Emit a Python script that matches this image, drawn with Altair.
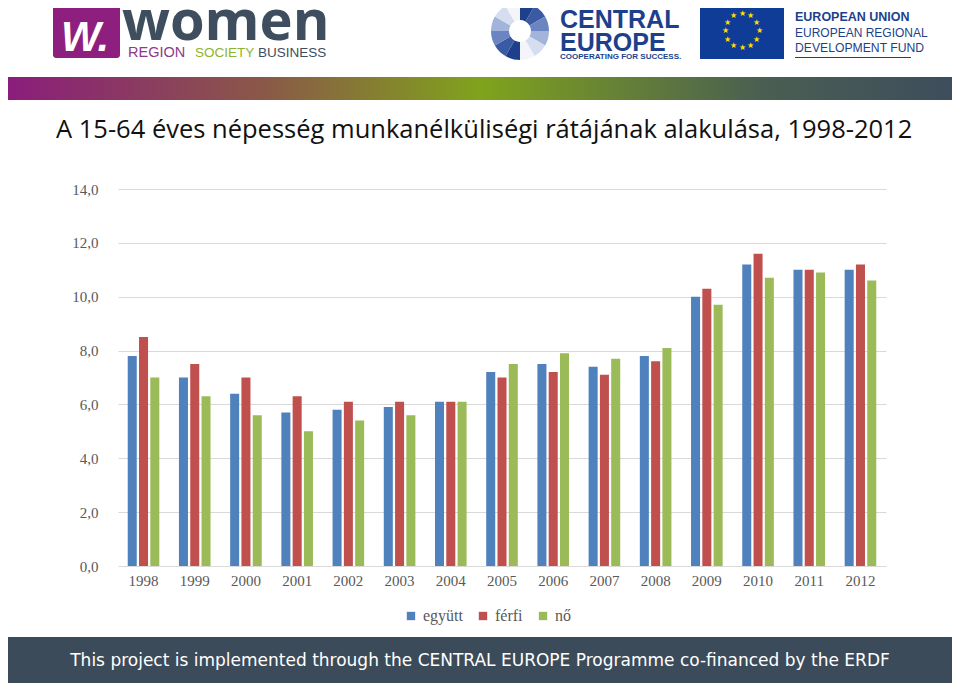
import math
import altair as alt
import pandas as pd

# ---- data ----
years = ["1998", "1999", "2000", "2001", "2002", "2003", "2004", "2005",
         "2006", "2007", "2008", "2009", "2010", "2011", "2012"]
egyutt = [7.8, 7.0, 6.4, 5.7, 5.8, 5.9, 6.1, 7.2, 7.5, 7.4, 7.8, 10.0, 11.2, 11.0, 11.0]
ferfi = [8.5, 7.5, 7.0, 6.3, 6.1, 6.1, 6.1, 7.0, 7.2, 7.1, 7.6, 10.3, 11.6, 11.0, 11.2]
no = [7.0, 6.3, 5.6, 5.0, 5.4, 5.6, 6.1, 7.5, 7.9, 7.7, 8.1, 9.7, 10.7, 10.9, 10.6]
series = ["együtt", "férfi", "nő"]
colors = ["#4F81BD", "#C0504D", "#9BBB59"]
y_ticks = [0, 2, 4, 6, 8, 10, 12, 14]

title_text = "A 15-64 éves népesség munkanélküliségi rátájának alakulása, 1998-2012"
footer_text = "This project is implemented through the CENTRAL EUROPE Programme co-financed by the ERDF"

rows = []
for s, vals in zip(series, [egyutt, ferfi, no]):
    for y, v in zip(years, vals):
        rows.append({"ev": y, "sorozat": s, "ertek": v})
df = pd.DataFrame(rows)

SERIF = "Liberation Serif, Times New Roman, serif"
SANS = "Liberation Sans, Arial, sans-serif"

bars = alt.Chart(df).mark_bar().encode(
    x=alt.X("ev:N", sort=years,
            scale=alt.Scale(paddingInner=0.383, paddingOuter=0.19),
            axis=alt.Axis(title=None, labelAngle=0, ticks=False, domain=False,
                          labelFont=SERIF, labelFontSize=15, labelColor="#595959",
                          labelPadding=7, grid=False)),
    xOffset=alt.XOffset("sorozat:N", sort=series,
                        scale=alt.Scale(paddingInner=0.2, paddingOuter=0)),
    y=alt.Y("ertek:Q", scale=alt.Scale(domain=[0, 14], nice=False),
            axis=alt.Axis(title=None, values=y_ticks, ticks=False, domain=False,
                          grid=True, gridColor="#D9D9D9", gridWidth=1,
                          labelFont=SERIF, labelFontSize=15, labelColor="#595959",
                          labelPadding=20,
                          labelExpr="replace(format(datum.value, '.1f'), '.', ',')")),
    color=alt.Color("sorozat:N", sort=series,
                    scale=alt.Scale(domain=series, range=colors),
                    legend=alt.Legend(orient="none", legendX=285, legendY=419,
                                      direction="horizontal", title=None,
                                      symbolType="square", symbolSize=70,
                                      symbolStrokeWidth=0,
                                      labelFont=SERIF, labelFontSize=16,
                                      labelColor="#595959", columnPadding=12,
                                      labelOffset=4)),
)

one = pd.DataFrame({"a": [0]})


def txt(s, x, y, **props):
    return alt.Chart(one).mark_text(**props).encode(
        x=alt.value(x), y=alt.value(y), text=alt.value(s))


def box(x, x2, y, y2, **props):
    return alt.Chart(one).mark_rect(**props).encode(
        x=alt.value(x), x2=alt.value(x2), y=alt.value(y), y2=alt.value(y2))


layers = []

# gradient band
grad = alt.LinearGradient(
    gradient="linear", x1=0, x2=1, y1=0, y2=0,
    stops=[alt.GradientStop(offset=0, color="#8B1C7C"),
           alt.GradientStop(offset=0.27, color="#8A5848"),
           alt.GradientStop(offset=0.5, color="#80A31C"),
           alt.GradientStop(offset=0.8, color="#4A5E52"),
           alt.GradientStop(offset=1, color="#3D4D5C")])
layers.append(box(-112, 836, -112, -89, color=grad))

# women logo
layers.append(box(-65, 2, -184, -131, color="#8E1F7F", cornerRadius=3))
layers.append(txt("W.", -33, -138, align="center", baseline="alphabetic",
                  font=SANS, fontWeight="bold", fontStyle="italic",
                  fontSize=42, color="white"))
layers.append(txt("women", 4, -149, align="left", baseline="alphabetic",
                  font="Open Sans", fontWeight="bold", fontSize=56, color="#3E4E5E"))
layers.append(txt("REGION", 10, -132, align="left", baseline="alphabetic",
                  font=SANS, fontSize=14.5, color="#8E3A8A"))
layers.append(txt("SOCIETY", 77, -132, align="left", baseline="alphabetic",
                  font=SANS, fontSize=13.5, color="#8CB42C"))
layers.append(txt("BUSINESS", 140, -132, align="left", baseline="alphabetic",
                  font=SANS, fontSize=13.5, color="#3E4E5E"))

# central europe logo
swirl_cols = ["#1E3F8B", "#3A5AA3", "#6A85C0", "#A3B4DA", "#D5DDEF", "#F3F5FB",
              "#1E3F8B", "#3A5AA3", "#6A85C0", "#A3B4DA", "#D5DDEF", "#F3F5FB"]
n = len(swirl_cols)
for i, c in enumerate(swirl_cols):
    layers.append(alt.Chart(one).mark_arc(
        theta=2 * math.pi * i / n, theta2=2 * math.pi * (i + 1) / n,
        radius=29, radius2=11, color=c).encode(x=alt.value(402), y=alt.value(-158)))
layers.append(txt("CENTRAL", 442, -161, align="left", baseline="alphabetic",
                  font=SANS, fontWeight="bold", fontSize=25, color="#1E3F8B"))
layers.append(txt("EUROPE", 442, -138, align="left", baseline="alphabetic",
                  font=SANS, fontWeight="bold", fontSize=25, color="#1E3F8B"))
layers.append(txt("COOPERATING FOR SUCCESS.", 442, -130, align="left",
                  baseline="alphabetic", font=SANS, fontWeight="bold",
                  fontSize=8, color="#1E3F8B"))

# EU flag
layers.append(box(582, 666, -187, -130, color="#0F3C96"))
for k in range(12):
    ang = 2 * math.pi * k / 12
    layers.append(txt("★", 624 + 17 * math.cos(ang), -158 + 17 * math.sin(ang),
                      align="center", baseline="middle", fontSize=8,
                      color="#FFDD00"))
layers.append(txt("EUROPEAN UNION", 677, -168, align="left", baseline="alphabetic",
                  font=SANS, fontWeight="bold", fontSize=12.5, color="#1E3F8B"))
layers.append(txt("EUROPEAN REGIONAL", 677, -152, align="left", baseline="alphabetic",
                  font=SANS, fontSize=12, color="#1E3F8B"))
layers.append(txt("DEVELOPMENT FUND", 677, -137, align="left", baseline="alphabetic",
                  font=SANS, fontSize=12.2, color="#1E3F8B"))
layers.append(box(677, 793, -132, -131, color="#1E3F8B"))

# title
layers.append(txt(title_text, -62, -51, align="left", baseline="alphabetic",
                  font="Open Sans, sans-serif", fontSize=25.5, color="#111111"))

# footer
layers.append(box(-112, 836, 448, 494, color="#3C4B5A"))
layers.append(txt(footer_text, 362, 472, align="center", baseline="middle",
                  font="DejaVu Sans, sans-serif", fontSize=17,
                  color="white"))

chart = alt.layer(bars, *layers).properties(
    width=768, height=377,
    autosize=alt.AutoSizeParams(type="none"),
    padding={"left": 110, "top": 181, "right": 66, "bottom": 117},
    background="white",
).configure_view(stroke=None)

chart.save("out.html", embed_options={"renderer": "svg", "actions": False})
